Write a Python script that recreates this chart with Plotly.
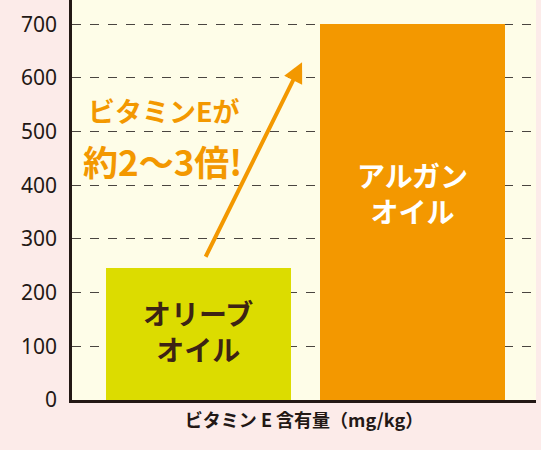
import plotly.graph_objects as go

categories = ["オリーブオイル", "アルガンオイル"]
values = [246, 700]
bar_colors = ["#dcdc00", "#f39800"]
bar_labels = ["オリーブ<br>オイル", "アルガン<br>オイル"]
label_colors = ["#3d2314", "#ffffff"]
label_y = [128, 385]
tick_vals = [0, 100, 200, 300, 400, 500, 600, 700]
x_title = "ビタミン E 含有量（mg/kg）"
callout_1 = "ビタミンEが"
callout_2 = "約2〜3倍!"

FONT = "Noto Sans CJK JP"

fig = go.Figure()
fig.add_trace(go.Bar(
    x=[0, 1], y=values, marker=dict(color=bar_colors, line=dict(width=0)),
    width=0.864, hoverinfo="skip",
))

for i, (lab, col, yy) in enumerate(zip(bar_labels, label_colors, label_y)):
    fig.add_annotation(x=i, y=yy, xref="x", yref="y", text="<b>" + lab + "</b>",
                       showarrow=False, font=dict(family=FONT, size=28, color=col),
                       align="center")

fig.add_annotation(x=0.484, y=629, ax=0.03, ay=264, xref="x", yref="y",
                   axref="x", ayref="y", text="", showarrow=True,
                   arrowhead=2, arrowsize=1, arrowwidth=4, arrowcolor="#f39800",
                   standoff=0)
fig.add_annotation(x=-0.16, y=540, xref="x", yref="y", text="<b>" + callout_1 + "</b>",
                   showarrow=False, font=dict(family=FONT, size=27, color="#f39800"))
fig.add_annotation(x=-0.17, y=447, xref="x", yref="y", text="<b>" + callout_2 + "</b>",
                   showarrow=False, font=dict(family=FONT, size=35, color="#f39800"))

fig.update_layout(
    width=541, height=450,
    margin=dict(l=72, r=5, t=0, b=50),
    paper_bgcolor="#fcebe9",
    plot_bgcolor="#fefde8",
    showlegend=False,
    bargap=0,
    xaxis=dict(range=[-0.591, 1.577], showticklabels=False, ticks="",
               showgrid=False, zeroline=False, showline=True,
               linecolor="#231815", linewidth=2.5,
               title=dict(text="<b>" + x_title + "</b>", standoff=13,
                          font=dict(family=FONT, size=18, color="#231815"))),
    yaxis=dict(range=[0, 745], tickvals=tick_vals, ticks="",
               showgrid=True, gridcolor="#4a4540", griddash="dash", gridwidth=1.2,
               zeroline=False, showline=True, linecolor="#231815", linewidth=2.5,
               tickfont=dict(family="Noto Sans", size=21, color="#231815"),
               ticklabelstandoff=8),
)
fig.update_yaxes(layer="below traces")

fig.write_html("out.html", config={"displayModeBar": False},
               post_script="document.body.style.margin='0';document.body.style.padding='0';")
